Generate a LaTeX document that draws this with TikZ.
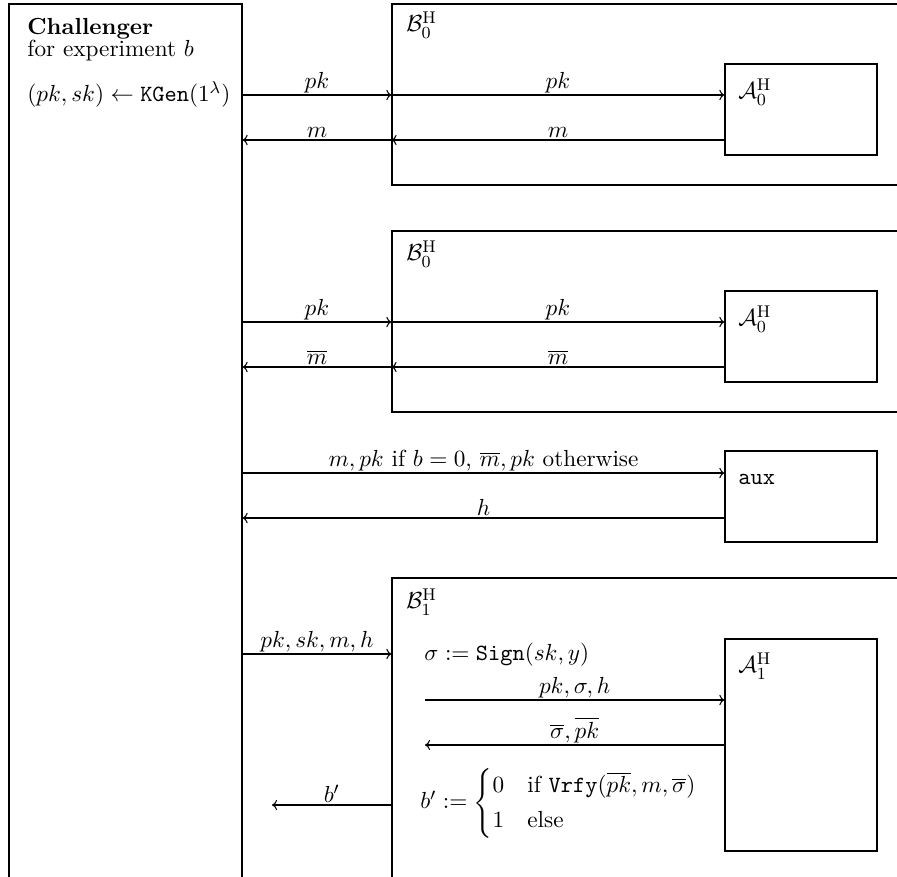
\documentclass[tikz,border=0pt]{standalone}
\usepackage{amsmath}
\usetikzlibrary{fit,arrows.meta}
\begin{document}
\begin{tikzpicture}[x=0.016556cm,y=-0.016556cm,
  font=\fontsize{10.95}{13.6}\selectfont,
  box/.style={draw, inner sep=0pt, line width=0.5pt},
  txt/.style={inner sep=0pt},
  lab/.style={midway, above, inner sep=0.8pt},
  arr/.style={-{To[length=2.4pt,width=4.8pt]}, line width=0.5pt}]
\useasboundingbox (0,0) rectangle (897,877);
\clip (0,0) rectangle (897,877);
% boxes
\node[box, fit={(9,4) (242,960)}] (chal) {};
\node[box, fit={(392,4) (960,185)}] (B0a) {};
\node[box, fit={(725,64) (877,155)}] (A0a) {};
\node[box, fit={(392,231) (960,412)}] (B0b) {};
\node[box, fit={(725,291) (877,382)}] (A0b) {};
\node[box, fit={(725,451) (877,542)}] (aux) {};
\node[box, fit={(392,578) (960,960)}] (B1) {};
\node[box, fit={(725,639) (877,851)}] (A1) {};
% texts
\node[txt, anchor=base west] (t1) at (27,35) {\textbf{Challenger}};
\node[txt, anchor=base west] (t2) at (27,57) {for experiment $b$};
\node[txt, anchor=base west] (t3) at (27,102) {$(pk,sk)\leftarrow\mathtt{KGen}(1^\lambda)$};
\node[txt, anchor=west] (lB0a) at (406,25) {$\mathcal{B}_0^{\mathrm{H}}$};
\node[txt, anchor=west] (lB0b) at (406,254) {$\mathcal{B}_0^{\mathrm{H}}$};
\node[txt, anchor=west] (lB1) at (406,602) {$\mathcal{B}_1^{\mathrm{H}}$};
\node[txt, anchor=west] (lA0a) at (738,92) {$\mathcal{A}_0^{\mathrm{H}}$};
\node[txt, anchor=west] (lA0b) at (738,319) {$\mathcal{A}_0^{\mathrm{H}}$};
\node[txt, anchor=west] (laux) at (738,479) {$\mathtt{aux}$};
\node[txt, anchor=west] (lA1) at (738,666) {$\mathcal{A}_1^{\mathrm{H}}$};
\node[txt, anchor=west] (sig) at (424,655) {$\sigma := \mathtt{Sign}(sk,y)$};
\node[txt, anchor=west] (cases) at (420,803) {$b' := \begin{cases} 0 & \text{if } \mathtt{Vrfy}(\overline{pk},m,\overline{\sigma})\\ 1 & \text{else}\end{cases}$};
% row coordinates
\coordinate (r1) at (0,95);
\coordinate (r2) at (0,140);
\coordinate (r3) at (0,322);
\coordinate (r4) at (0,367);
\coordinate (r5) at (0,473);
\coordinate (r6) at (0,518);
\coordinate (r7) at (0,654);
\coordinate (s8) at (425,700);
\coordinate (s9) at (425,745);
\coordinate (e10) at (272,805);
% arrows
\draw[arr] (chal.east |- r1) -- node[lab]{$pk$} (B0a.west |- r1);
\draw[arr] (B0a.west |- r1) -- node[lab]{$pk$} (A0a.west |- r1);
\draw[arr] (A0a.west |- r2) -- node[lab]{$m$} (B0a.west |- r2);
\draw[arr] (B0a.west |- r2) -- node[lab]{$m$} (chal.east |- r2);
\draw[arr] (chal.east |- r3) -- node[lab]{$pk$} (B0b.west |- r3);
\draw[arr] (B0b.west |- r3) -- node[lab]{$pk$} (A0b.west |- r3);
\draw[arr] (A0b.west |- r4) -- node[lab]{$\overline{m}$} (B0b.west |- r4);
\draw[arr] (B0b.west |- r4) -- node[lab]{$\overline{m}$} (chal.east |- r4);
\draw[arr] (chal.east |- r5) -- node[lab]{$m,pk$ if $b=0$,\ $\overline{m},pk$ otherwise} (aux.west |- r5);
\draw[arr] (aux.west |- r6) -- node[lab]{$h$} (chal.east |- r6);
\draw[arr] (chal.east |- r7) -- node[lab]{$pk,sk,m,h$} (B1.west |- r7);
\draw[arr] (s8) -- node[lab]{$pk,\sigma,h$} (A1.west |- s8);
\draw[arr] (A1.west |- s9) -- node[lab]{$\overline{\sigma},\overline{pk}$} (s9);
\draw[arr] (B1.west |- e10) -- node[lab]{$b'$} (e10);
\end{tikzpicture}
\end{document}
